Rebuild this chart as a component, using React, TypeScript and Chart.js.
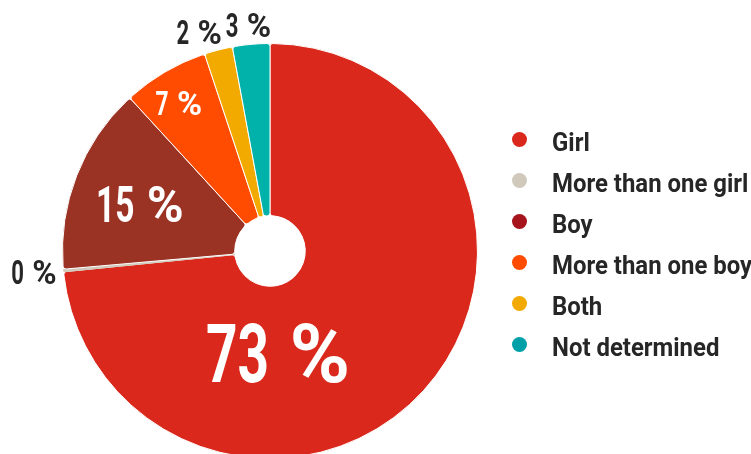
import React, { useEffect, useRef } from "react";
import { Chart, registerables } from "chart.js";

Chart.register(...registerables);

// ---- data ----
const categories = ["Girl", "More than one girl", "Boy", "More than one boy", "Both", "Not determined"];
const shares = [73.4, 0.2, 14.6, 6.7, 2.2, 2.9];
const sliceColors = ["#DA291C", "#D0C9BB", "#9B3325", "#FF4C00", "#F2A900", "#00B2A9"];
const legendColors = ["#DA291C", "#D0C9BB", "#A6151B", "#FF4C00", "#F2A900", "#00A0A8"];

const FONT = "Roboto, 'Noto Sans', sans-serif";
const TEXT_DARK = "#262626";
const DIGIT_H = 0.711;
const NUM_SX = 0.67; // squeeze digits to imitate a condensed face
const PCT_SX = 1.0;
const LEGEND_SX = 0.92;

// label placement inside slices: t = fraction of the slice angle, r = fraction of the radius
const insidePlacement: Record<number, { t: number; r: number }> = {
  0: { t: 0.664, r: 0.494 },
  2: { t: 0.47, r: 0.666 },
  3: { t: 0.45, r: 0.837 },
};

function labelWidth(ctx: CanvasRenderingContext2D, num: string) {
  return ctx.measureText(num).width * NUM_SX + ctx.measureText(" %").width * PCT_SX;
}

function drawLabel(ctx: CanvasRenderingContext2D, num: string, cx: number, baseline: number) {
  const numW = ctx.measureText(num).width * NUM_SX;
  const total = labelWidth(ctx, num);
  const x0 = cx - total / 2;
  ctx.textAlign = "left";
  ctx.textBaseline = "alphabetic";
  ctx.save();
  ctx.translate(x0, baseline);
  ctx.scale(NUM_SX, 1);
  ctx.fillText(num, 0, 0);
  ctx.restore();
  ctx.save();
  ctx.translate(x0 + numW, baseline);
  ctx.scale(PCT_SX, 1);
  ctx.fillText(" %", 0, 0);
  ctx.restore();
}

const labelPlugin = {
  id: "sliceLabels",
  afterDatasetsDraw(chart: any) {
    const ctx = chart.ctx as CanvasRenderingContext2D;
    const meta = chart.getDatasetMeta(0);
    const outside: any[] = [];
    ctx.save();
    meta.data.forEach((arc: any, i: number) => {
      const p = arc.getProps(["x", "y", "startAngle", "endAngle", "innerRadius", "outerRadius"], true);
      const v = shares[i];
      const num = `${Math.round(v)}`;
      if (v >= 5) {
        const pl = insidePlacement[i] || { t: 0.5, r: 0.666 };
        const a = p.startAngle + pl.t * (p.endAngle - p.startAngle);
        const r = pl.r * p.outerRadius;
        const size = Math.round(20 * Math.log(v) - 4);
        const cx = p.x + Math.cos(a) * r;
        const cy = p.y + Math.sin(a) * r;
        ctx.font = `700 ${size}px ${FONT}`;
        ctx.fillStyle = "#ffffff";
        drawLabel(ctx, num, cx, cy + (DIGIT_H * size) / 2);
      } else {
        const a = (p.startAngle + p.endAngle) / 2;
        const size = 33;
        ctx.font = `700 ${size}px ${FONT}`;
        const w = labelWidth(ctx, num);
        const h = DIGIT_H * size;
        const dx = Math.cos(a), dy = Math.sin(a);
        const off = 7;
        const ax = p.x + dx * p.outerRadius;
        const ay = p.y + dy * p.outerRadius;
        outside.push({ num, size, w, h, dx, cx: ax + dx * off + (dx * w) / 2, cy: ay + dy * off + (dy * h) / 2 });
      }
    });
    // simple collision avoidance, later labels keep their place
    const GAP = 4;
    for (let i = outside.length - 1; i >= 0; i--) {
      const A = outside[i];
      for (let j = i + 1; j < outside.length; j++) {
        const B = outside[j];
        const ox = Math.min(A.cx + A.w / 2, B.cx + B.w / 2) - Math.max(A.cx - A.w / 2, B.cx - B.w / 2);
        const oy = Math.min(A.cy + A.h / 2, B.cy + B.h / 2) - Math.max(A.cy - A.h / 2, B.cy - B.h / 2);
        if (ox > -GAP && oy > 0) {
          const shift = ox + GAP;
          A.cx += A.dx < 0 ? -shift : shift;
        }
      }
    }
    outside.forEach((L) => {
      ctx.font = `700 ${L.size}px ${FONT}`;
      ctx.fillStyle = TEXT_DARK;
      drawLabel(ctx, L.num, L.cx, L.cy + L.h / 2);
    });
    ctx.restore();
  },
};

export default function App() {
  const ref = useRef<HTMLCanvasElement | null>(null);

  useEffect(() => {
    if (!ref.current) return;
    const chart = new Chart(ref.current, {
      type: "doughnut",
      data: {
        labels: categories,
        datasets: [
          {
            data: shares,
            backgroundColor: sliceColors,
            borderColor: sliceColors.map((c, i) => (i === 1 ? c : "#ffffff")),
            borderWidth: 1,
            borderRadius: 3,
          },
        ],
      },
      options: {
        responsive: false,
        animation: false,
        cutout: "17%",
        layout: { padding: { left: 62, top: 43, right: 273, bottom: 21 } },
        plugins: {
          legend: { display: false },
          tooltip: { enabled: false },
        },
      },
      plugins: [labelPlugin],
    });
    return () => chart.destroy();
  }, []);

  return (
    <div
      style={{
        position: "fixed",
        left: 0,
        top: 0,
        width: 751,
        height: 454,
        overflow: "hidden",
        background: "#ffffff",
      }}
    >
      <canvas ref={ref} width={751} height={480} style={{ display: "block" }} />
      <div
        style={{
          position: "absolute",
          left: 512,
          top: 119,
          fontFamily: FONT,
          fontWeight: 700,
          fontSize: 26,
          color: TEXT_DARK,
        }}
      >
        {categories.map((c, i) => (
          <div key={c} style={{ display: "flex", alignItems: "center", height: 41, whiteSpace: "nowrap" }}>
            <span
              style={{
                display: "inline-block",
                width: 15,
                height: 15,
                borderRadius: "50%",
                background: legendColors[i],
                marginRight: 25,
                flex: "none",
              }}
            />
            <span
              style={{
                display: "inline-block",
                transform: `scaleX(${LEGEND_SX}) translateY(2px)`,
                transformOrigin: "left center",
              }}
            >
              {c}
            </span>
          </div>
        ))}
      </div>
    </div>
  );
}
